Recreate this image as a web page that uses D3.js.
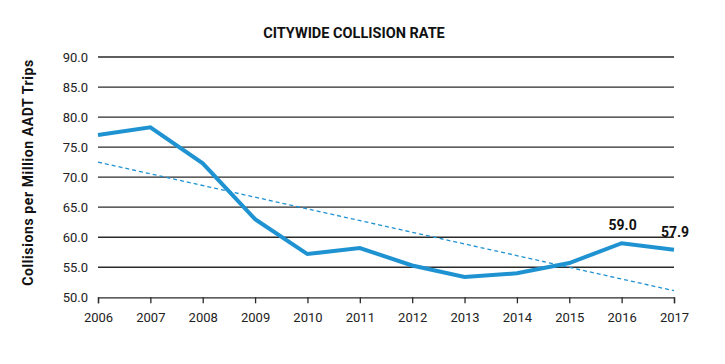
<!DOCTYPE html>
<html><head><meta charset="utf-8">
<script src="https://cdn.jsdelivr.net/npm/d3@7"></script>
<style>body{margin:0;background:#fff;} svg{display:block;}</style>
</head><body>
<svg id="chart" width="725" height="364"></svg>
<script>
const years = [2006,2007,2008,2009,2010,2011,2012,2013,2014,2015,2016,2017];
const rates = [77.0,78.3,72.3,63.0,57.2,58.2,55.3,53.4,54.0,55.7,59.0,57.9];
const trendYears = [2006,2017];
const trendValues = [72.5,51.1];
const yTicks = [50,55,60,65,70,75,80,85,90];
const labeledYears = [2016,2017];
const title = "CITYWIDE COLLISION RATE";
const yTitle = "Collisions per Million AADT Trips";

(function(){
const svg = d3.select("#chart");
const font = "Roboto, 'Noto Sans', sans-serif";
const mLeft = 98, mRight = 674, mTop = 57, mBottom = 297.3;
const x = d3.scaleLinear().domain([2006,2017]).range([mLeft,mRight]);
const y = d3.scaleLinear().domain([50,90]).range([mBottom,mTop]);
const blue = "#1f93d2";

// gridlines
svg.append("g").selectAll("line").data(yTicks.filter(d=>d>50)).join("line")
  .attr("x1",mLeft).attr("x2",mRight)
  .attr("y1",d=>y(d)).attr("y2",d=>y(d))
  .attr("stroke","#2a2a2a").attr("stroke-width",1.3);

// y axis labels
const yAxis = d3.axisLeft(y).tickValues(yTicks).tickFormat(d3.format(".1f")).tickSize(0).tickPadding(10);
const gy = svg.append("g").attr("transform",`translate(${mLeft},0)`).call(yAxis);
gy.select(".domain").remove();
gy.selectAll("text").attr("font-family",font).attr("font-size",13).attr("fill","#222");

// x axis
const xAxis = d3.axisBottom(x).tickValues(years).tickFormat(d3.format("d")).tickSize(6).tickPadding(9);
const gx = svg.append("g").attr("transform",`translate(0,${mBottom})`).call(xAxis);
gx.select(".domain").attr("stroke","#2a2a2a").attr("stroke-width",1.3);
gx.selectAll(".tick line").attr("stroke","#2a2a2a").attr("stroke-width",1.3);
gx.selectAll("text").attr("font-family",font).attr("font-size",13).attr("fill","#222");

// trend line
svg.append("path")
  .datum(trendYears.map((d,i)=>[d,trendValues[i]]))
  .attr("d",d3.line().x(d=>x(d[0])).y(d=>y(d[1])))
  .attr("fill","none").attr("stroke",blue).attr("stroke-width",1.3)
  .attr("stroke-dasharray","4,3");

// main line
svg.append("path")
  .datum(years.map((d,i)=>[d,rates[i]]))
  .attr("d",d3.line().x(d=>x(d[0])).y(d=>y(d[1])))
  .attr("fill","none").attr("stroke",blue).attr("stroke-width",4)
  .attr("stroke-linejoin","miter");

// value labels
svg.append("g").selectAll("text").data(labeledYears).join("text")
  .attr("x",d=>x(d)+1)
  .attr("y",d=>y(rates[years.indexOf(d)])-13)
  .attr("text-anchor","middle")
  .attr("font-family",font).attr("font-weight","bold").attr("font-size",14).attr("fill","#111")
  .text(d=>d3.format(".1f")(rates[years.indexOf(d)]));

// title
svg.append("text").attr("x",354).attr("y",38).attr("text-anchor","middle")
  .attr("font-family",font).attr("font-weight","bold").attr("font-size",14.5).attr("fill","#111")
  .text(title);

// y title
svg.append("text").attr("transform",`translate(33,172.5) rotate(-90)`)
  .attr("text-anchor","middle")
  .attr("font-family",font).attr("font-weight","bold").attr("font-size",14).attr("letter-spacing",0.6).attr("fill","#111")
  .text(yTitle);
})();
</script>
</body></html>
